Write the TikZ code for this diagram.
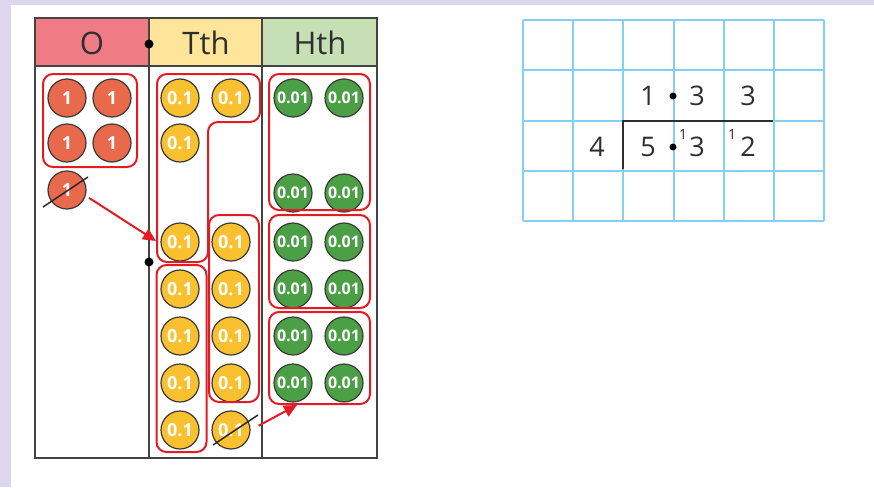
\documentclass[tikz,border=0pt]{standalone}
\usepackage{fontspec}
\setmainfont{Open Sans}
\usetikzlibrary{arrows.meta,calc}
\definecolor{bglav}{HTML}{DDD6EC}
\definecolor{hdrO}{HTML}{EF7B84}
\definecolor{hdrT}{HTML}{FEE599}
\definecolor{hdrH}{HTML}{C6DFB5}
\definecolor{coinO}{HTML}{E8694B}
\definecolor{coinT}{HTML}{F9C12F}
\definecolor{coinH}{HTML}{4BA046}
\definecolor{coinedge}{HTML}{3A3A3A}
\definecolor{tblline}{HTML}{444444}
\definecolor{redline}{HTML}{E31B23}
\definecolor{gridblue}{HTML}{82D0F4}
\definecolor{digit}{HTML}{2E2E2E}
\begin{document}
\begin{tikzpicture}[x=1pt,y=-1pt,
  tbl/.style={draw=tblline,line width=2pt},
  hdr/.style={font=\fontsize{31}{31}\selectfont,text=digit,inner sep=0pt},
  coin/.style={circle,draw=coinedge,line width=1.2pt,minimum size=38pt,inner sep=0pt,text=white},
  cO/.style={coin,fill=coinO,font=\bfseries\fontsize{18}{18}\selectfont},
  cT/.style={coin,fill=coinT,font=\bfseries\fontsize{18}{18}\selectfont},
  cH/.style={coin,fill=coinH,font=\bfseries\fontsize{16}{16}\selectfont},
  redbox/.style={draw=redline,line width=2pt,rounded corners=10pt,rectangle,inner sep=0pt},
  redarrow/.style={draw=redline,line width=2pt,-{Triangle[length=13pt,width=12pt]}},
  crossline/.style={draw=black!85,line width=1.5pt},
  gridline/.style={draw=gridblue,line width=2pt},
  dig/.style={font=\fontsize{27}{27}\selectfont,text=digit,inner sep=0pt},
  sup/.style={font=\fontsize{14}{14}\selectfont,text=digit,inner sep=0pt}
]
\useasboundingbox (0,0) rectangle (874,487);
\fill[bglav] (0,0) rectangle (874,487);
\fill[white] (11,5) rectangle (874,487);

% headers
\fill[hdrO] (35,18) rectangle (149,66);
\fill[hdrT] (149,18) rectangle (262,66);
\fill[hdrH] (262,18) rectangle (377,66);
\node[hdr] (hO) at (92,43) {O};
\node[hdr] (hT) at (206,43) {Tth};
\node[hdr] (hH) at (320,43) {Hth};

% table lines
\draw[tbl] (35,18) rectangle (377,458);
\draw[tbl] (35,66) -- (377,66);
\draw[tbl] (149,18) -- (149,458);
\draw[tbl] (262,18) -- (262,458);
\fill[black] (149,44) circle (4.5);
\fill[black] (149,262) circle (4.5);

% O coins
\node[cO] (o1) at (67,98) {1};
\node[cO] (o2) at (112,98) {1};
\node[cO] (o3) at (67,143) {1};
\node[cO] (o4) at (112,143) {1};
\node[cO] (o5) at (67,190) {1};
\draw[crossline] ($(o5)+(-24,17)$) -- ($(o5)+(21,-13)$);

% Tth coins
\node[cT] (t1) at (180,98) {0.1};
\node[cT] (t2) at (231,98) {0.1};
\node[cT] (t3) at (180,143) {0.1};
\node[cT] (t4) at (180,242) {0.1};
\node[cT] (t5) at (231,242) {0.1};
\node[cT] (t6) at (180,289) {0.1};
\node[cT] (t7) at (231,289) {0.1};
\node[cT] (t8) at (180,336) {0.1};
\node[cT] (t9) at (231,336) {0.1};
\node[cT] (t10) at (180,383) {0.1};
\node[cT] (t11) at (231,383) {0.1};
\node[cT] (t12) at (180,430) {0.1};
\node[cT] (t13) at (231,430) {0.1};
\draw[crossline] ($(t13)+(-18,15)$) -- ($(t13)+(27,-15)$);

% Hth coins
\node[cH] (h1) at (293,98) {0.01};
\node[cH] (h2) at (344,98) {0.01};
\node[cH] (h3) at (293,193) {0.01};
\node[cH] (h4) at (344,193) {0.01};
\node[cH] (h5) at (293,242) {0.01};
\node[cH] (h6) at (344,242) {0.01};
\node[cH] (h7) at (293,289) {0.01};
\node[cH] (h8) at (344,289) {0.01};
\node[cH] (h9) at (293,336) {0.01};
\node[cH] (h10) at (344,336) {0.01};
\node[cH] (h11) at (293,383) {0.01};
\node[cH] (h12) at (344,383) {0.01};

% red groupings
\node[redbox,minimum width=94pt,minimum height=93pt] (ob) at (90,120.5) {};
\draw[draw=redline,line width=2pt,rounded corners=10pt]
  (157,74) -- (260,74) -- (260,122) -- (208,122) -- (208,262) -- (157,262) -- cycle;
\node[redbox,minimum width=50pt,minimum height=187pt] (tb2) at (234,308.5) {};
\node[redbox,minimum width=50pt,minimum height=187pt] (tb3) at (181.5,358.5) {};
\node[redbox,minimum width=101pt,minimum height=136pt] (hb1) at (319.5,142) {};
\node[redbox,minimum width=101pt,minimum height=93pt] (hb2) at (319.5,261.5) {};
\node[redbox,minimum width=101pt,minimum height=92pt] (hb3) at (319.5,358) {};

% arrows
\coordinate (a1end) at (156,241);
\coordinate (a2end) at (297,405);
\draw[redarrow,shorten <=4pt] (o5.-17) -- (a1end);
\draw[redarrow,shorten <=9pt] (t13.east) -- (a2end);

% grid
\foreach \i in {0,...,6} {
  \draw[gridline] (523+50.17*\i,20) -- (523+50.17*\i,221);
}
\foreach \j in {0,...,4} {
  \draw[gridline] (523,20+50.25*\j) -- (824,20+50.25*\j);
}

% division
\draw[draw=digit,line width=2pt] (623,169) -- (623,121) -- (773,121);
\node[dig] (q1) at (648,96) {1};
\fill[black] (673,96) circle (3.5);
\node[dig] (q2) at (697,96) {3};
\node[dig] (q3) at (748,96) {3};
\node[dig] (dv) at (597,147) {4};
\node[dig] (n1) at (648,147) {5};
\fill[black] (673,147) circle (3.5);
\node[sup] (s1) at (683,135) {1};
\node[dig] (n2) at (697,147) {3};
\node[sup] (s2) at (732,135) {1};
\node[dig] (n3) at (748,147) {2};
\end{tikzpicture}
\end{document}
